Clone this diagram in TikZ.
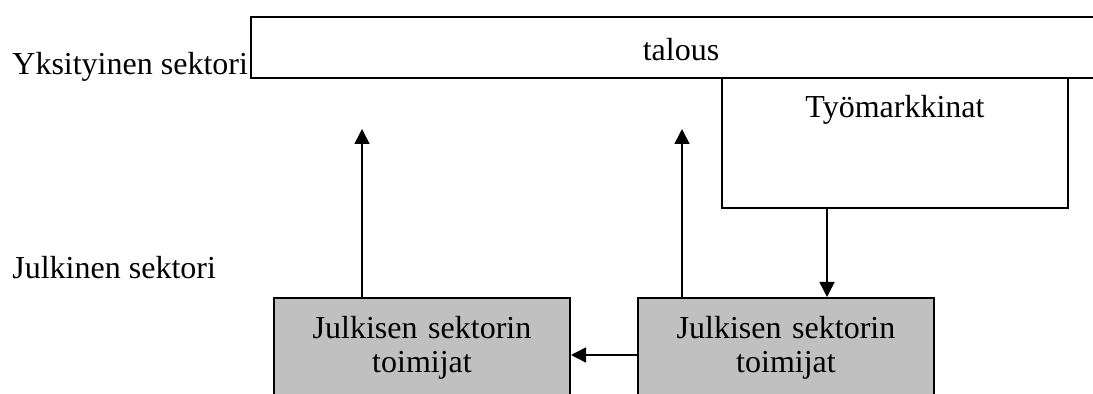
\documentclass[tikz,border=0pt]{standalone}
\usepackage{fontspec}
\setmainfont{Liberation Serif}
\usepackage{xcolor}
\usetikzlibrary{positioning}
\usetikzlibrary{arrows.meta,calc}
\definecolor{boxgrey}{RGB}{192,192,192}

\begin{document}
\begin{tikzpicture} [
       x=0.5pt, y=-0.5pt,
       font=\fontsize{16pt}{17pt}\selectfont,
       cadre/.style={rectangle, draw, line width=1pt, inner sep=0pt},
       acteur/.style={cadre, fill=boxgrey, minimum width=148pt,
               minimum height=50pt, text width=140pt, align=center},
       texte/.style={inner sep=0pt},
        line/.style     = { draw, line width=0.75pt, -{Triangle[length=7.5pt,width=7.5pt]} },
       ]
       \useasboundingbox (0,0) rectangle (1093,394);
       \clip (0,0) rectangle (1093,394);
       \node (talous) [cadre, anchor=north west, minimum width=430pt, minimum height=30.5pt,
               text height=13pt] at (250,16) {talous};
       \node (tyo) [cadre, anchor=north west, minimum width=173pt, minimum height=65pt,
               label={[texte, anchor=north, yshift=-9pt]north:Työmarkkinat}] at (721,77) {};
       \node (jul2) [acteur, anchor=north west] at (637,297) {Julkisen sektorin\\toimijat};
       \node (jul1) [acteur, left=33pt of jul2] {Julkisen sektorin\\toimijat};
       \node (yks) [texte, anchor=base west] at (12,75) {Yksityinen sektori};
       \node (julk) [texte, anchor=base west] at (12,279) {Julkinen sektori};
       \coordinate (h1) at (362,129);
       \coordinate (h2) at (682,129);
       \coordinate (d) at (827,0);
        \begin{scope}[every path/.style=line]
        \path (jul1.north -| h1) -- (h1);
        \path (jul2.north -| h2) -- (h2);
        \path (tyo.south -| d) -- (jul2.north -| d);
        \path ([yshift=-3.5pt]jul2.west) -- ([yshift=-3.5pt]jul1.east);
\end{scope}
\end{tikzpicture}
\end{document}
